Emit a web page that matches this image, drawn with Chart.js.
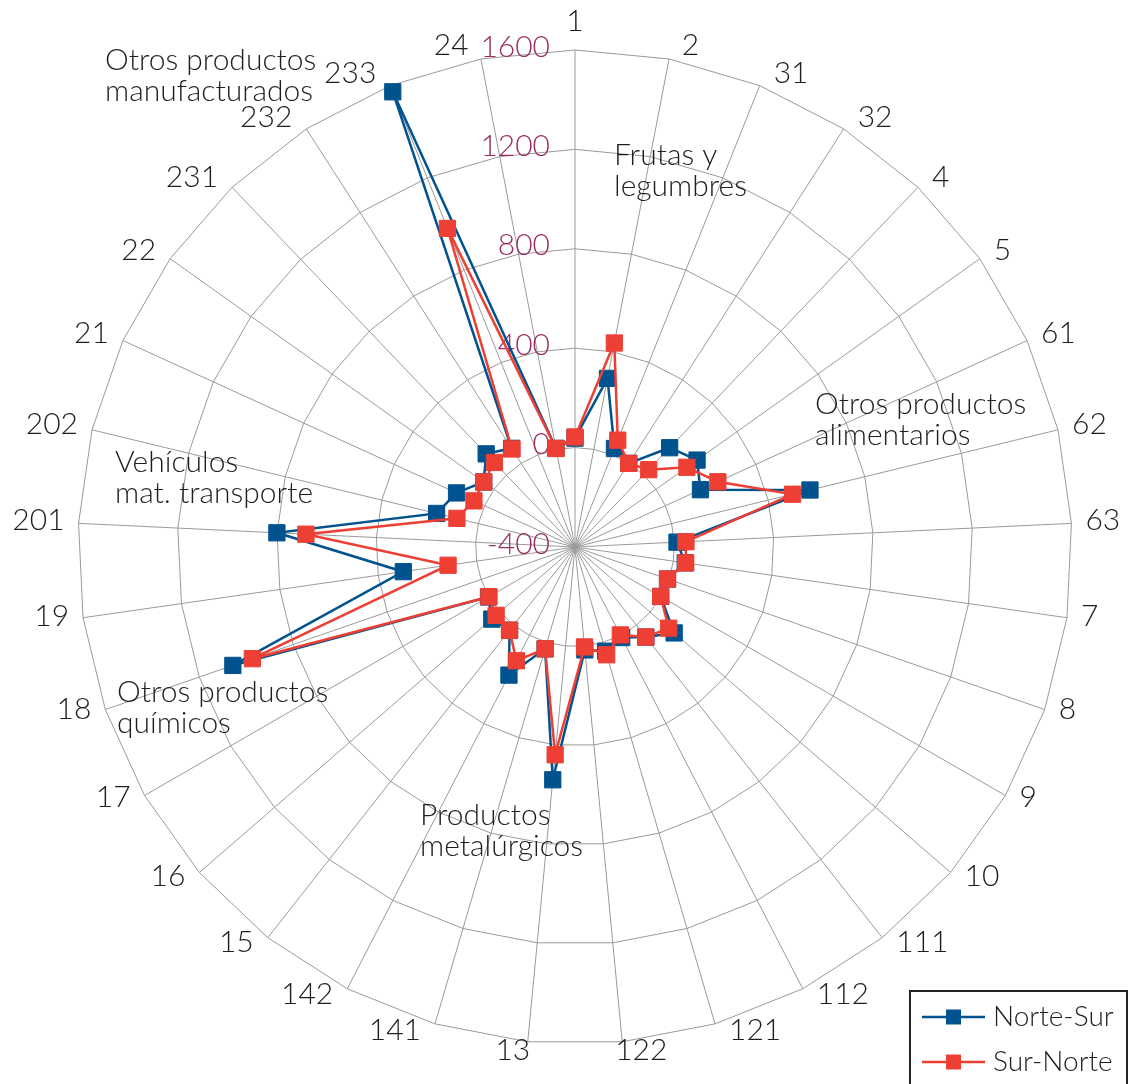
<!DOCTYPE html>
<html lang="es">
<head>
<meta charset="utf-8">
<title>Norte-Sur / Sur-Norte</title>
<script src="https://cdn.jsdelivr.net/npm/chart.js@4.4.1/dist/chart.umd.min.js"></script>
<style>
  html, body { margin: 0; padding: 0; background: #fff; }
  #wrap { position: relative; width: 1131px; height: 1084px; }
</style>
</head>
<body>
<div id="wrap"><canvas id="radar" width="1131" height="1084"></canvas></div>
<script>
"use strict";

// categorías (códigos de mercancía)
const categories = ["1", "2", "31", "32", "4", "5", "61", "62", "63", "7", "8", "9", "10",
  "111", "112", "121", "122", "13", "141", "142", "15", "16", "17", "18", "19",
  "201", "202", "21", "22", "231", "232", "233", "24"];

const norteSur = [38, 291, 27, 0, 152, 203, 155, 573, 11, 48, -6, -2, 128, 61, 10, 37, 16,
  541, 27, 180, 26, 43, 2, 1057, 298, 801, 173, 124, 51, 118, 72, 1573, 4];

const surNorte = [43, 436, 63, 0, 30, 153, 232, 501, 47, 50, -6, -2, 99, 61, -2, 52, 4,
  440, 27, 115, 26, 20, 0, 974, 116, 684, 89, 47, 51, 70, 69, 981, 4];

const tickValues = [-400, 0, 400, 800, 1200, 1600];
const seriesNames = ["Norte-Sur", "Sur-Norte"];

// rótulos de grupos dentro del gráfico
const groupNotes = [
  ["Frutas y", "legumbres"],
  ["Otros productos", "alimentarios"],
  ["Otros productos", "manufacturados"],
  ["Vehículos", "mat. transporte"],
  ["Otros productos", "químicos"],
  ["Productos", "metalúrgicos"]
];
const notePlaces = [[614, 155], [815, 404], [105, 60], [115, 462], [117, 692], [420, 815]];

const family = "Lato, 'Noto Sans', sans-serif";
const blue = "#00538e";
const red = "#ee3f34";
const tickColor = "#9a2e63";
const textColor = "#1e1e1e";
const gridColor = "#9a9a9a";

Chart.defaults.font.family = family;

/**
 * Dibuja los textos: valores del eje, códigos, rótulos de grupo y leyenda.
 */
const radarText = {
  id: "radarText",
  beforeDatasetsDraw(chart) {
    const ctx = chart.ctx;
    const r = chart.scales.r;
    ctx.save();
    ctx.font = `300 30px ${family}`;
    ctx.fillStyle = tickColor;
    ctx.textAlign = "right";
    ctx.textBaseline = "middle";
    tickValues.forEach(v => {
      const d = r.getDistanceFromCenterForValue(v);
      ctx.fillText(String(v), r.xCenter - 25, r.yCenter - d - 3);
    });
    ctx.restore();
  },
  afterDraw(chart) {
    const ctx = chart.ctx;
    const r = chart.scales.r;
    ctx.save();

    // códigos alrededor, al lado del vértice exterior
    ctx.font = `300 30px ${family}`;
    ctx.fillStyle = textColor;
    ctx.textAlign = "center";
    ctx.textBaseline = "middle";
    categories.forEach((label, i) => {
      const a = r.getIndexAngle(i);
      const s = Math.sin(a), c = Math.cos(a);
      const w = ctx.measureText(label).width;
      const p = r.getPointPosition(i, r.drawingArea);
      const k = Math.min(1, Math.abs(s) * 5);
      let x = p.x + Math.sign(s) * (w / 2 + 14) * k;
      let y = p.y - c * (10 + 16 * (1 - k)) - 4;
      if (y > 1049) y = 1049;
      ctx.fillText(label, x, y + 1);
    });

    // rótulos de grupos
    ctx.font = `300 30px ${family}`;
    ctx.textAlign = "left";
    groupNotes.forEach((lines, i) => {
      const [x, y] = notePlaces[i];
      lines.forEach((t, k) => ctx.fillText(t, x, y + k * 31));
    });

    // leyenda
    ctx.lineWidth = 2;
    ctx.strokeStyle = "#222";
    ctx.strokeRect(910, 991, 217, 120);
    const colors = [blue, red];
    seriesNames.forEach((name, i) => {
      const y = 1017 + i * 45;
      ctx.strokeStyle = colors[i];
      ctx.lineWidth = 2.5;
      ctx.beginPath();
      ctx.moveTo(922, y);
      ctx.lineTo(985, y);
      ctx.stroke();
      ctx.fillStyle = colors[i];
      ctx.fillRect(946, y - 7.5, 15, 15);
      ctx.fillStyle = textColor;
      ctx.font = `300 28px ${family}`;
      ctx.fillText(name, 993, y);
    });
    ctx.restore();
  }
};

new Chart(document.getElementById("radar"), {
  type: "radar",
  data: {
    labels: categories,
    datasets: [
      {
        label: seriesNames[0],
        data: norteSur,
        borderColor: blue,
        backgroundColor: blue,
        pointBackgroundColor: blue,
        pointBorderColor: blue,
        order: 1
      },
      {
        label: seriesNames[1],
        data: surNorte,
        borderColor: red,
        backgroundColor: red,
        pointBackgroundColor: red,
        pointBorderColor: red,
        order: 0
      }
    ]
  },
  options: {
    responsive: false,
    animation: false,
    events: [],
    layout: {
      padding: { left: 78, right: 59, top: 50, bottom: 40 }
    },
    elements: {
      line: { borderWidth: 2.5, tension: 0, fill: false },
      point: { pointStyle: "rect", radius: 11.5, borderWidth: 1 }
    },
    plugins: {
      legend: { display: false },
      tooltip: { enabled: false }
    },
    scales: {
      r: {
        min: -400,
        max: 1600,
        ticks: { stepSize: 400, display: false },
        grid: { color: gridColor, lineWidth: 1 },
        angleLines: { color: gridColor, lineWidth: 1 },
        pointLabels: { display: false }
      }
    }
  },
  plugins: [radarText]
});
</script>
</body>
</html>
